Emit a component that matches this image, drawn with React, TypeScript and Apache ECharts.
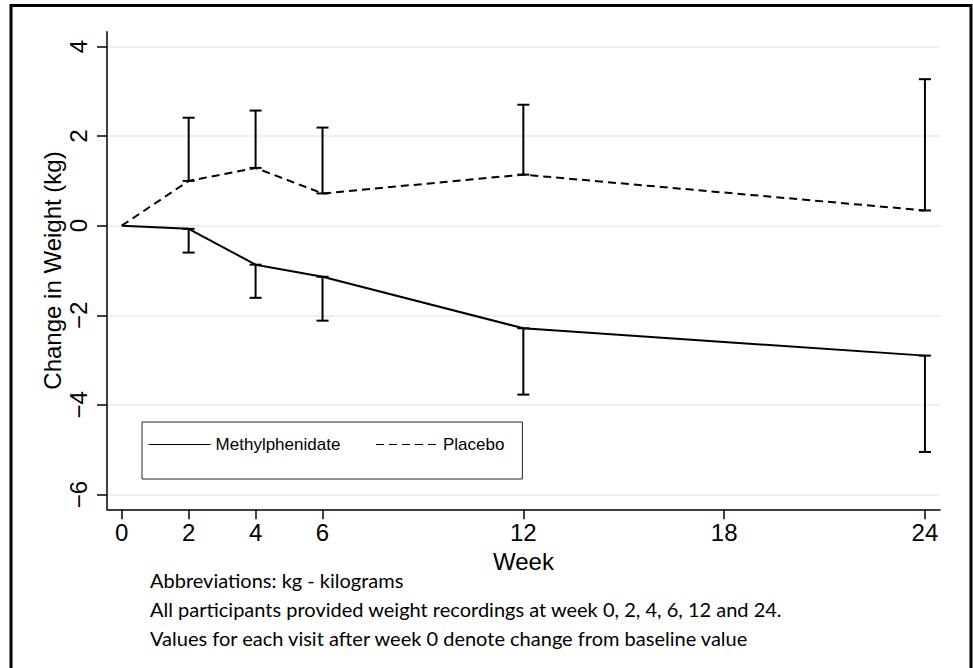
import React, { useEffect, useRef } from "react";
import * as echarts from "echarts";

const weeks = [0, 2, 4, 6, 12, 24];
const methylMean = [0, -0.07, -0.87, -1.14, -2.29, -2.9];
const methylLower = [null, -0.6, -1.61, -2.12, -3.77, -5.05];
const placeboMean = [0, 1.0, 1.29, 0.72, 1.14, 0.34];
const placeboUpper = [null, 2.41, 2.57, 2.19, 2.7, 3.27];
const xTicks = [0, 2, 4, 6, 12, 18, 24];
const yTicks = [-6, -4, -2, 0, 2, 4];
const footnotes = [
  "Abbreviations: kg - kilograms",
  "All participants provided weight recordings at week 0, 2, 4, 6, 12 and 24.",
  "Values for each visit after week 0 denote change from baseline value",
];

const FONT = "'Liberation Sans', Arial, Helvetica, sans-serif";

export default function App() {
  const ref = useRef<HTMLDivElement>(null);
  useEffect(() => {
    if (!ref.current) return;
    const chart = echarts.init(ref.current, null, { renderer: "svg" });

    const errData = (means: number[], bounds: (number | null)[]) =>
      weeks
        .map((w, i) => (bounds[i] === null ? null : [w, means[i], bounds[i]]))
        .filter((d) => d !== null);

    const renderErr = (params: any, api: any) => {
      const x = api.value(0);
      const p1 = api.coord([x, api.value(1)]);
      const p2 = api.coord([x, api.value(2)]);
      const hw = 6;
      const style = { stroke: "#000", lineWidth: 2 };
      return {
        type: "group",
        children: [
          { type: "line", shape: { x1: p1[0], y1: p1[1], x2: p2[0], y2: p2[1] }, style },
          { type: "line", shape: { x1: p1[0] - hw, y1: p1[1], x2: p1[0] + hw, y2: p1[1] }, style },
          { type: "line", shape: { x1: p2[0] - hw, y1: p2[1], x2: p2[0] + hw, y2: p2[1] }, style },
        ],
      };
    };

    chart.setOption({
      animation: false,
      backgroundColor: "#fff",
      grid: { left: 107, right: 33, top: 31.7, bottom: 158.7, containLabel: false },
      xAxis: {
        type: "value",
        min: -0.44,
        max: 24.45,
        name: "Week",
        nameLocation: "middle",
        nameGap: 29,
        nameTextStyle: { fontFamily: FONT, fontSize: 24, color: "#000" },
        axisLine: { show: true, onZero: false, lineStyle: { color: "#000", width: 1.5 } },
        axisTick: { show: true, length: 10, customValues: xTicks, lineStyle: { color: "#000", width: 1.5 } },
        axisLabel: { customValues: xTicks, margin: 11, fontFamily: FONT, fontSize: 24, color: "#000" },
        splitLine: { show: false },
      },
      yAxis: {
        type: "value",
        min: -6.33,
        max: 4.33,
        name: "Change in Weight (kg)",
        nameLocation: "middle",
        nameGap: 43,
        nameMoveOverlap: false,
        nameTextStyle: { fontFamily: FONT, fontSize: 24, color: "#000" },
        axisLine: { show: true, onZero: false, lineStyle: { color: "#000", width: 1.5 } },
        axisTick: { show: true, length: 10, customValues: yTicks, lineStyle: { color: "#000", width: 1.5 } },
        axisLabel: {
          customValues: yTicks,
          rotate: 90,
          margin: 17,
          fontFamily: FONT,
          fontSize: 24,
          color: "#000",
          formatter: (v: number) => String(v).replace("-", "\u2212"),
        },
        splitLine: { show: true, lineStyle: { color: "#eaf0f3", width: 2 } },
      },
      legend: {
        left: 142,
        top: 422,
        orient: "horizontal",
        padding: [14, 18, 26, 6],
        itemGap: 35,
        itemWidth: 62,
        itemHeight: 14,
        borderColor: "#222",
        borderWidth: 1,
        selectedMode: false,
        textStyle: { fontFamily: FONT, fontSize: 17, color: "#000" },
        itemStyle: { opacity: 0 },
        lineStyle: { width: 1.2 },
        data: ["Methylphenidate", "Placebo"],
      },
      graphic: [
        {
          type: "rect",
          shape: { x: 11, y: 5.5, width: 960, height: 700 },
          style: { fill: "none", stroke: "#000", lineWidth: 3 },
          silent: true,
        },
        ...footnotes.map((t, i) => ({
          type: "text",
          left: 150,
          top: 570 + i * 29,
          style: { text: t, fontFamily: "Lato, 'Open Sans', sans-serif", fontSize: 20, fill: "#000" },
        })),
      ],
      series: [
        {
          name: "Methylphenidate",
          type: "line",
          data: weeks.map((w, i) => [w, methylMean[i]]),
          symbol: "none",
          lineStyle: { color: "#000", width: 2, type: "solid" },
          itemStyle: { color: "#000" },
          z: 3,
        },
        {
          name: "Placebo",
          type: "line",
          data: weeks.map((w, i) => [w, placeboMean[i]]),
          symbol: "none",
          lineStyle: { color: "#000", width: 2, type: [8, 5] },
          itemStyle: { color: "#000" },
          z: 3,
        },
        {
          name: "methylErr",
          type: "custom",
          renderItem: renderErr,
          data: errData(methylMean, methylLower),
          z: 4,
        },
        {
          name: "placeboErr",
          type: "custom",
          renderItem: renderErr,
          data: errData(placeboMean, placeboUpper),
          z: 4,
        },
      ],
    });
    return () => chart.dispose();
  }, []);
  return (
    <div
      ref={ref}
      style={{ position: "fixed", left: 0, top: 0, width: 973, height: 668, background: "#fff" }}
    />
  );
}
